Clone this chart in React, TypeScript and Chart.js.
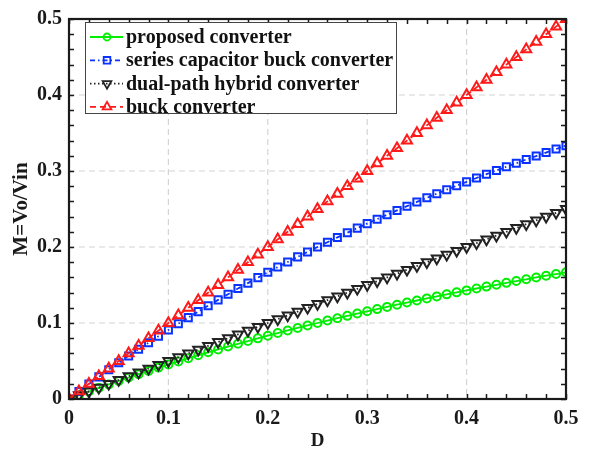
import { useEffect, useRef } from "react";
import { Chart, registerables } from "chart.js";

Chart.register(...registerables);

const dutyCycle = [
  0, 0.01, 0.02, 0.03, 0.04, 0.05, 0.06, 0.07, 0.08, 0.09,
  0.1, 0.11, 0.12, 0.13, 0.14, 0.15, 0.16, 0.17, 0.18, 0.19,
  0.2, 0.21, 0.22, 0.23, 0.24, 0.25, 0.26, 0.27, 0.28, 0.29,
  0.3, 0.31, 0.32, 0.33, 0.34, 0.35, 0.36, 0.37, 0.38, 0.39,
  0.4, 0.41, 0.42, 0.43, 0.44, 0.45, 0.46, 0.47, 0.48, 0.49, 0.5,
];

const proposedGain = [
  0, 0.005, 0.0098, 0.0146, 0.0192, 0.0238, 0.0283, 0.0327, 0.037, 0.0413,
  0.0455, 0.0495, 0.0536, 0.0575, 0.0614, 0.0652, 0.069, 0.0726, 0.0763, 0.0798,
  0.0833, 0.0868, 0.0902, 0.0935, 0.0968, 0.1, 0.1032, 0.1063, 0.1094, 0.1124,
  0.1154, 0.1183, 0.1212, 0.1241, 0.1269, 0.1296, 0.1324, 0.135, 0.1377, 0.1403,
  0.1429, 0.1454, 0.1479, 0.1503, 0.1528, 0.1552, 0.1575, 0.1599, 0.1622, 0.1644, 0.1667,
];

const seriesCapGain = [
  0, 0.0099, 0.0196, 0.0291, 0.0385, 0.0476, 0.0566, 0.0654, 0.0741, 0.0826,
  0.0909, 0.0991, 0.1071, 0.115, 0.1228, 0.1304, 0.1379, 0.1453, 0.1525, 0.1597,
  0.1667, 0.1736, 0.1803, 0.187, 0.1935, 0.2, 0.2063, 0.2126, 0.2188, 0.2248,
  0.2308, 0.2366, 0.2424, 0.2481, 0.2537, 0.2593, 0.2647, 0.2701, 0.2754, 0.2806,
  0.2857, 0.2908, 0.2958, 0.3007, 0.3056, 0.3103, 0.3151, 0.3197, 0.3243, 0.3289, 0.3333,
];

const dualPathGain = [
  0, 0.005, 0.01, 0.015, 0.02, 0.025, 0.03, 0.035, 0.04, 0.045,
  0.05, 0.055, 0.06, 0.065, 0.07, 0.075, 0.08, 0.085, 0.09, 0.095,
  0.1, 0.105, 0.11, 0.115, 0.12, 0.125, 0.13, 0.135, 0.14, 0.145,
  0.15, 0.155, 0.16, 0.165, 0.17, 0.175, 0.18, 0.185, 0.19, 0.195,
  0.2, 0.205, 0.21, 0.215, 0.22, 0.225, 0.23, 0.235, 0.24, 0.245, 0.25,
];

const buckGain = [
  0, 0.01, 0.02, 0.03, 0.04, 0.05, 0.06, 0.07, 0.08, 0.09,
  0.1, 0.11, 0.12, 0.13, 0.14, 0.15, 0.16, 0.17, 0.18, 0.19,
  0.2, 0.21, 0.22, 0.23, 0.24, 0.25, 0.26, 0.27, 0.28, 0.29,
  0.3, 0.31, 0.32, 0.33, 0.34, 0.35, 0.36, 0.37, 0.38, 0.39,
  0.4, 0.41, 0.42, 0.43, 0.44, 0.45, 0.46, 0.47, 0.48, 0.49, 0.5,
];

const majorTicks = [0, 0.1, 0.2, 0.3, 0.4, 0.5];
const minorStep = 0.02;
const minorCount = 25;

const legendLabels = [
  "proposed converter",
  "series capacitor buck converter",
  "dual-path hybrid converter",
  "buck converter",
];

const GREEN = "#00ee00";
const BLUE = "#0a32ff";
const BLACK = "#222222";
const RED = "#ff1a1a";
const FONT = '"Liberation Serif", "Times New Roman", serif';

function pts(ys: number[]) {
  return dutyCycle.map((d, i) => ({ x: d, y: ys[i] }));
}

const legendStyles = [
  { color: GREEN, dash: [] as number[], style: "circle", radius: 4, rotation: 0 },
  { color: BLUE, dash: [5, 3, 1.5, 3], style: "rect", radius: 5, rotation: 0 },
  { color: BLACK, dash: [1.5, 2.5], style: "triangle", radius: 5.8, rotation: 180 },
  { color: RED, dash: [6, 4], style: "triangle", radius: 5.8, rotation: 0 },
];

const decorPlugin = {
  id: "decor",
  beforeDatasetsDraw(chart: any) {
    const { ctx, chartArea, scales } = chart;
    const { left, right, top, bottom } = chartArea;
    ctx.save();
    ctx.strokeStyle = "#d4d4d4";
    ctx.lineWidth = 1.2;
    ctx.setLineDash([6, 4]);
    majorTicks.forEach((v) => {
      const px = scales.x.getPixelForValue(v);
      if (px > left + 1 && px < right - 1) {
        ctx.beginPath();
        ctx.moveTo(px, top);
        ctx.lineTo(px, bottom);
        ctx.stroke();
      }
      const py = scales.y.getPixelForValue(v);
      if (py > top + 1 && py < bottom - 1) {
        ctx.beginPath();
        ctx.moveTo(left, py);
        ctx.lineTo(right, py);
        ctx.stroke();
      }
    });
    ctx.restore();
  },
  afterDatasetsDraw(chart: any) {
    const { ctx, chartArea, scales } = chart;
    const { left, right, top, bottom } = chartArea;
    ctx.save();
    ctx.setLineDash([]);
    ctx.strokeStyle = "#1a1a1a";
    ctx.lineWidth = 1.5;
    const tl = 5;
    for (let i = 0; i <= minorCount; i++) {
      const v = i * minorStep;
      const px = Math.round(scales.x.getPixelForValue(v)) + 0.5;
      ctx.beginPath();
      ctx.moveTo(px, bottom);
      ctx.lineTo(px, bottom - tl);
      ctx.moveTo(px, top);
      ctx.lineTo(px, top + tl);
      ctx.stroke();
      const py = Math.round(scales.y.getPixelForValue(v)) + 0.5;
      ctx.beginPath();
      ctx.moveTo(left, py);
      ctx.lineTo(left + tl, py);
      ctx.moveTo(right, py);
      ctx.lineTo(right - tl, py);
      ctx.stroke();
    }
    ctx.lineWidth = 2.2;
    ctx.strokeRect(left, top, right - left, bottom - top);

    // legend
    const bx = 85, by = 22, bw = 311, bh = 91;
    ctx.fillStyle = "#ffffff";
    ctx.fillRect(bx, by, bw, bh);
    ctx.lineWidth = 1;
    ctx.strokeStyle = "#444444";
    ctx.strokeRect(bx + 0.5, by + 0.5, bw, bh);
    ctx.font = `bold 20px ${FONT}`;
    ctx.textBaseline = "middle";
    ctx.textAlign = "left";
    legendLabels.forEach((label, i) => {
      const s = legendStyles[i];
      const cy = by + 15 + i * 23.3;
      ctx.strokeStyle = s.color;
      ctx.lineWidth = 1.8;
      ctx.setLineDash(s.dash);
      ctx.beginPath();
      ctx.moveTo(90, cy);
      ctx.lineTo(123, cy);
      ctx.stroke();
      ctx.setLineDash([]);
      ctx.lineWidth = 1.8;
      const mx = 107;
      ctx.beginPath();
      if (s.style === "circle") {
        ctx.arc(mx, cy, 3.5, 0, Math.PI * 2);
      } else if (s.style === "rect") {
        ctx.rect(mx - 3.3, cy - 3.3, 6.6, 6.6);
      } else {
        const r = 5;
        const dir = s.rotation === 180 ? -1 : 1;
        ctx.moveTo(mx, cy - dir * r);
        ctx.lineTo(mx - r * 0.87, cy + dir * r * 0.5);
        ctx.lineTo(mx + r * 0.87, cy + dir * r * 0.5);
        ctx.closePath();
      }
      ctx.stroke();
      ctx.fillStyle = "#111111";
      ctx.fillText(label, 126, cy + 1);
    });
    ctx.restore();
  },
};

export default function App() {
  const canvasRef = useRef<HTMLCanvasElement | null>(null);

  useEffect(() => {
    if (!canvasRef.current) return;
    const mk = (label: string, ys: number[], idx: number) => {
      const s = legendStyles[idx];
      return {
        label,
        data: pts(ys),
        borderColor: s.color,
        backgroundColor: "rgba(255,255,255,0)",
        borderWidth: 1.8,
        borderDash: s.dash,
        pointStyle: s.style,
        pointRadius: s.radius,
        pointRotation: s.rotation,
        pointBorderWidth: 2,
        pointBorderColor: s.color,
        pointBackgroundColor: "rgba(255,255,255,0)",
        fill: false,
        tension: 0,
      };
    };
    const chart = new Chart(canvasRef.current, {
      type: "line",
      data: {
        datasets: [
          mk(legendLabels[3], buckGain, 3),
          mk(legendLabels[2], dualPathGain, 2),
          mk(legendLabels[1], seriesCapGain, 1),
          mk(legendLabels[0], proposedGain, 0),
        ],
      },
      options: {
        animation: false,
        responsive: false,
        maintainAspectRatio: false,
        layout: { padding: { top: 10, right: 31, left: 0, bottom: 0 } },
        plugins: { legend: { display: false }, tooltip: { enabled: false } },
        scales: {
          x: {
            type: "linear",
            min: 0,
            max: 0.5,
            grid: { display: false, drawTicks: false },
            border: { display: false },
            afterFit: (scale: any) => {
              scale.height = 56;
            },
            afterBuildTicks: (scale: any) => {
              scale.ticks = majorTicks.map((v) => ({ value: v }));
            },
            ticks: {
              padding: 8,
              color: "#1a1a1a",
              font: { family: FONT, size: 20, weight: "bold" },
              callback: (v: any) => String(v),
              maxRotation: 0,
            },
            title: {
              display: true,
              text: "D",
              color: "#1a1a1a",
              font: { family: FONT, size: 19, weight: "bold" },
              padding: { top: 0, bottom: 3 },
            },
          },
          y: {
            type: "linear",
            min: 0,
            max: 0.5,
            grid: { display: false, drawTicks: false },
            border: { display: false },
            afterFit: (scale: any) => {
              scale.width = 69;
            },
            afterBuildTicks: (scale: any) => {
              scale.ticks = majorTicks.map((v) => ({ value: v }));
            },
            ticks: {
              padding: 7,
              color: "#1a1a1a",
              font: { family: FONT, size: 20, weight: "bold" },
              callback: (v: any) => String(v),
            },
            title: {
              display: true,
              text: "M=Vo/Vin",
              color: "#1a1a1a",
              font: { family: FONT, size: 21, weight: "bold" },
              padding: { top: 9, bottom: 0 },
            },
          },
        },
      },
      plugins: [decorPlugin],
    } as any);
    return () => chart.destroy();
  }, []);

  return (
    <div style={{ position: "fixed", left: 0, top: 0, width: 597, height: 455, background: "#fff" }}>
      <canvas ref={canvasRef} width={597} height={455} style={{ width: 597, height: 455, display: "block" }} />
    </div>
  );
}
